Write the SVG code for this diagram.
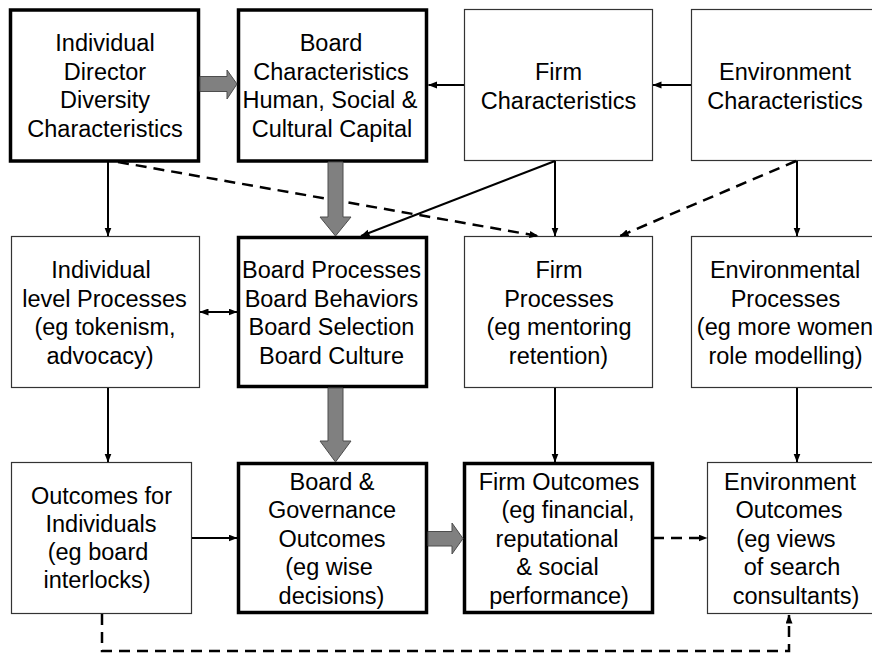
<svg xmlns="http://www.w3.org/2000/svg" width="872" height="655" viewBox="0 0 872 655">
<style>
  .thin { fill: #fff; stroke: #333; stroke-width: 1.2; }
  .thick { fill: #fff; stroke: #000; stroke-width: 3.5; }
  text { font-family: "Liberation Sans", Arial, sans-serif; font-size: 23.5px; fill: #000; text-anchor: middle; }
  .ln { stroke: #000; stroke-width: 2; fill: none; }
  .dash { stroke: #000; stroke-width: 2.5; fill: none; stroke-dasharray: 11 7; }
  .block { fill: #808080; stroke: #4d4d4d; stroke-width: 1; }
</style>
<defs>
  <marker id="ah" markerUnits="userSpaceOnUse" markerWidth="10" markerHeight="8" refX="8.5" refY="3.5" orient="auto">
    <path d="M0,0 L9,3.5 L0,7 z" fill="#000"/>
  </marker>
  <marker id="ahs" markerUnits="userSpaceOnUse" markerWidth="10" markerHeight="8" refX="0.5" refY="3.5" orient="auto">
    <path d="M9,0 L0,3.5 L9,7 z" fill="#000"/>
  </marker>
</defs>
<rect width="872" height="655" fill="#fff"/>

<g id="n1">
  <rect class="thick" x="10.5" y="10" width="188" height="151"/>
  <text x="105" y="51">Individual</text>
  <text x="105" y="79.5">Director</text>
  <text x="105" y="108">Diversity</text>
  <text x="105" y="136.5">Characteristics</text>
</g>
<g id="n2">
  <rect class="thick" x="238.5" y="10" width="188" height="151"/>
  <text x="331" y="51">Board</text>
  <text x="331" y="79.5">Characteristics</text>
  <text x="330" y="108">Human, Social &amp;</text>
  <text x="332" y="136.5">Cultural Capital</text>
</g>
<g id="n3">
  <rect class="thin" x="464.5" y="9.5" width="188" height="151"/>
  <text x="558.5" y="80">Firm</text>
  <text x="558.5" y="108.5">Characteristics</text>
</g>
<g id="n4">
  <rect class="thin" x="691.5" y="9.5" width="200" height="151"/>
  <text x="785" y="80">Environment</text>
  <text x="785" y="108.5">Characteristics</text>
</g>

<g id="n5">
  <rect class="thin" x="11.5" y="236.5" width="188" height="151"/>
  <text x="101" y="278">Individual</text>
  <text x="104.5" y="306.5">level Processes</text>
  <text x="105" y="335">(eg tokenism,</text>
  <text x="100" y="363.5">advocacy)</text>
</g>
<g id="n6">
  <rect class="thick" x="238.5" y="237.5" width="188" height="149"/>
  <text x="331.5" y="278">Board Processes</text>
  <text x="331.5" y="306.5">Board Behaviors</text>
  <text x="331.5" y="335">Board Selection</text>
  <text x="331.5" y="363.5">Board Culture</text>
</g>
<g id="n7">
  <rect class="thin" x="464.5" y="236.5" width="188" height="151"/>
  <text x="559" y="278">Firm</text>
  <text x="559" y="306.5">Processes</text>
  <text x="559" y="335">(eg mentoring</text>
  <text x="558.5" y="363.5">retention)</text>
</g>
<g id="n8">
  <rect class="thin" x="691.5" y="236.5" width="200" height="151"/>
  <text x="785" y="278">Environmental</text>
  <text x="785.5" y="306.5">Processes</text>
  <text x="785" y="335">(eg more women</text>
  <text x="785.5" y="363.5">role modelling)</text>
</g>

<g id="n9">
  <rect class="thin" x="11.5" y="462.5" width="180" height="151"/>
  <text x="101.5" y="504">Outcomes for</text>
  <text x="101" y="532">Individuals</text>
  <text x="98" y="560">(eg board</text>
  <text x="97" y="588">interlocks)</text>
</g>
<g id="n10">
  <rect class="thick" x="238.5" y="463.5" width="188" height="149"/>
  <text x="332" y="489.5">Board &amp;</text>
  <text x="332" y="518">Governance</text>
  <text x="332" y="546.5">Outcomes</text>
  <text x="329" y="575">(eg wise</text>
  <text x="331.5" y="603.5">decisions)</text>
</g>
<g id="n11">
  <rect class="thick" x="464.5" y="463.5" width="188" height="149"/>
  <text x="559" y="489.5">Firm Outcomes</text>
  <text x="568" y="518">(eg financial,</text>
  <text x="557" y="546.5">reputational</text>
  <text x="557.5" y="575">&amp; social</text>
  <text x="559" y="603.5">performance)</text>
</g>
<g id="n12">
  <rect class="thin" x="707.5" y="462.5" width="180" height="151"/>
  <text x="790" y="489.5">Environment</text>
  <text x="789" y="518">Outcomes</text>
  <text x="786" y="546.5">(eg views</text>
  <text x="792" y="575">of search</text>
  <text x="796" y="603.5">consultants)</text>
</g>

<g id="connectors">
  <line class="ln" x1="464" y1="85" x2="428.5" y2="85" marker-end="url(#ah)"/>
  <line class="ln" x1="691" y1="85" x2="653" y2="85" marker-end="url(#ah)"/>
  <line class="ln" x1="108" y1="162" x2="108" y2="236" marker-end="url(#ah)"/>
  <line class="ln" x1="555" y1="161" x2="555" y2="236" marker-end="url(#ah)"/>
  <line class="ln" x1="555" y1="161" x2="361" y2="236" marker-end="url(#ah)"/>
  <line class="ln" x1="797" y1="161" x2="797" y2="236" marker-end="url(#ah)"/>
  <line class="ln" x1="200" y1="312" x2="237" y2="312" marker-start="url(#ahs)" marker-end="url(#ah)"/>
  <line class="ln" x1="108" y1="388" x2="108" y2="462" marker-end="url(#ah)"/>
  <line class="ln" x1="555" y1="388" x2="555" y2="462" marker-end="url(#ah)"/>
  <line class="ln" x1="797" y1="388" x2="797" y2="462" marker-end="url(#ah)"/>
  <line class="ln" x1="192" y1="538" x2="237" y2="538" marker-end="url(#ah)"/>

  <line class="dash" x1="118" y1="162" x2="538" y2="236" marker-end="url(#ah)"/>
  <line class="dash" x1="796" y1="161" x2="620" y2="236" marker-end="url(#ah)"/>
  <line class="dash" x1="653" y1="538" x2="707" y2="538" marker-end="url(#ah)"/>
  <path class="dash" d="M102,614 V651 H789 V615" marker-end="url(#ah)"/>

  <polygon class="block" points="200,76.5 227,76.5 227,70 237,84 227,99 227,91.5 200,91.5"/>
  <polygon class="block" points="328,162 343,162 343,217 351,217 335.5,236 320,217 328,217"/>
  <polygon class="block" points="328,388 343,388 343,441 351,441 335.5,462 320,441 328,441"/>
  <polygon class="block" points="428,531.5 452,531.5 452,523 463,538.5 452,554 452,546 428,546"/>
</g>
</svg>
